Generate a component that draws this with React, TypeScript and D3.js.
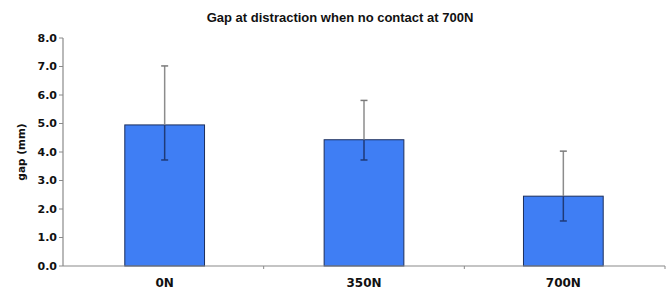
import React from "react";
import * as d3 from "d3";

const categories = ["0N", "350N", "700N"];
const means = [4.95, 4.43, 2.45];
const errLow = [3.72, 3.72, 1.58];
const errHigh = [7.02, 5.81, 4.03];
const yTicks = [0, 1, 2, 3, 4, 5, 6, 7, 8];

const W = 669, H = 291;
const M = { left: 63, right: 4, top: 38, bottom: 25 };

export default function App() {
  const x = d3.scaleBand().domain(categories).range([M.left, W - M.right]).paddingInner(0.6).paddingOuter(0.31);
  const band = d3.scaleBand().domain(categories).range([M.left, W - M.right]);
  const y = d3.scaleLinear().domain([0, 8]).range([H - M.bottom, M.top]);
  const y0 = y(0);
  const titleFont = "'Liberation Sans', Arial, sans-serif";
  const font = "'DejaVu Sans', Verdana, sans-serif";
  const axisColor = "#8a8a8a";
  return (
    <svg width={W} height={H} style={{ position: "absolute", left: 0, top: 0, background: "#fff" }}>
      <text x={340} y={22} textAnchor="middle" fontFamily={titleFont} fontWeight="bold" fontSize={13} fill="#111">
        Gap at distraction when no contact at 700N
      </text>
      <text transform={`translate(25,${(M.top + y0) / 2}) rotate(-90)`} textAnchor="middle" fontFamily={font} fontWeight="bold" fontSize={10.5} fill="#111">
        gap (mm)
      </text>
      {yTicks.map((t) => (
        <g key={t}>
          <line x1={M.left - 4} x2={M.left} y1={y(t)} y2={y(t)} stroke={axisColor} strokeWidth={1} />
          <text x={M.left - 6} y={y(t)} dy="0.35em" textAnchor="end" fontFamily={font} fontWeight="bold" fontSize={11} fill="#111">
            {t.toFixed(1)}
          </text>
        </g>
      ))}
      {categories.map((c, i) => {
        const bx = x(c)!;
        const bw = x.bandwidth();
        const cx = bx + bw / 2;
        const top = y(means[i]);
        return (
          <g key={c}>
            <rect x={bx} y={top} width={bw} height={y0 - top} fill="#3f7ef4" stroke="#1c2f5c" strokeWidth={1} />
            <line x1={cx} x2={cx} y1={y(errHigh[i])} y2={top} stroke="#8c8c8c" strokeWidth={1.5} />
            <line x1={cx} x2={cx} y1={top} y2={y(errLow[i])} stroke="#1f3a78" strokeWidth={1.5} />
            <line x1={cx - 3.5} x2={cx + 3.5} y1={y(errHigh[i])} y2={y(errHigh[i])} stroke="#7a7a7a" strokeWidth={1.5} />
            <line x1={cx - 3.5} x2={cx + 3.5} y1={y(errLow[i])} y2={y(errLow[i])} stroke="#1f3a78" strokeWidth={1.5} />
            <text x={cx} y={H - 4} textAnchor="middle" fontFamily={font} fontWeight="bold" fontSize={12} fill="#111">
              {c}
            </text>
          </g>
        );
      })}
      {categories.map((c) => {
        const tx = band(c)! + band.bandwidth();
        return <line key={"t" + c} x1={tx} x2={tx} y1={y0} y2={y0 + 3} stroke={axisColor} strokeWidth={1} />;
      })}
      <line x1={M.left} x2={M.left} y1={M.top} y2={y0} stroke={axisColor} strokeWidth={1.2} />
      <line x1={M.left} x2={W - M.right} y1={y0} y2={y0} stroke={axisColor} strokeWidth={1.2} />
    </svg>
  );
}
